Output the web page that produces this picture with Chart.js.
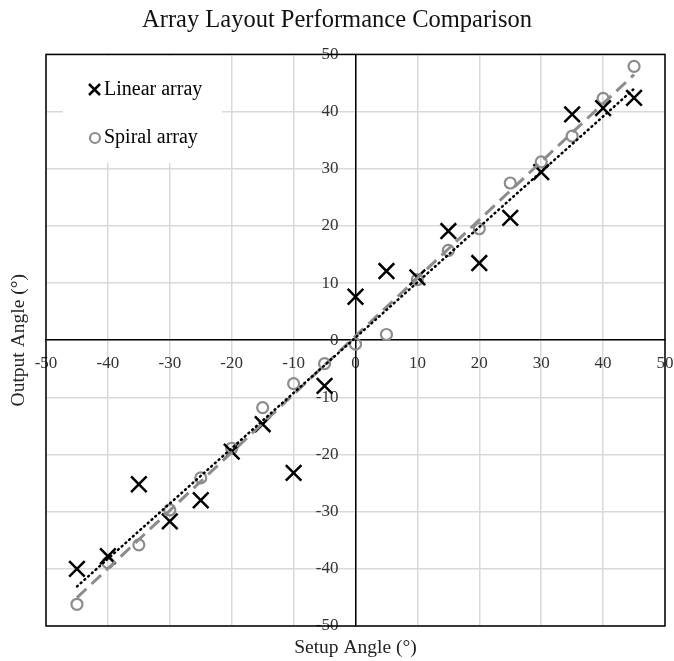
<!DOCTYPE html>
<html>
<head>
<meta charset="utf-8">
<script src="https://cdn.jsdelivr.net/npm/chart.js@4.4.0/dist/chart.umd.min.js"></script>
<style>
  html, body { margin: 0; padding: 0; background: #fff; }
  #wrap { width: 674px; height: 661px; }
</style>
</head>
<body>
<div id="wrap"><canvas id="layoutChart"></canvas></div>
<script>
// setup angles (deg) used for both arrays
var setupAngles = [-45, -40, -35, -30, -25, -20, -15, -10, -5, 0, 5, 10, 15, 20, 25, 30, 35, 40, 45];
// measured output angles
var linearOutput = [-40, -37.8, -25.2, -31.7, -28, -19.5, -14.7, -23.2, -8, 7.6, 12.1, 11, 19.1, 13.5, 21.4, 29.4, 39.5, 40.6, 42.4];
var spiralOutput = [-46.2, -38.9, -35.8, -29.7, -24.1, -18.9, -11.8, -7.6, -4.1, -0.7, 1, 10.6, 15.7, 19.5, 27.5, 31.2, 35.7, 42.3, 47.9];
var seriesNames = ['Linear array', 'Spiral array'];
var axisTicks = { min: -50, max: 50, step: 10 };

var serif = "'Liberation Serif', 'Times New Roman', serif";

function toPoints(xs, ys) {
    var pts = [];
    for (var i = 0; i < xs.length; i++) {
        pts.push({ x: xs[i], y: ys[i] });
    }
    return pts;
}

// least squares trendline between first and last setup angle
function trendline(xs, ys) {
    var n = xs.length, sx = 0, sy = 0, sxy = 0, sxx = 0;
    for (var i = 0; i < n; i++) {
        sx += xs[i]; sy += ys[i]; sxy += xs[i] * ys[i]; sxx += xs[i] * xs[i];
    }
    var slope = (n * sxy - sx * sy) / (n * sxx - sx * sx);
    var icpt = (sy - slope * sx) / n;
    var x0 = xs[0], x1 = xs[n - 1];
    return [{ x: x0, y: slope * x0 + icpt }, { x: x1, y: slope * x1 + icpt }];
}

// axis titles, legend box and outer frame
var decorations = {
    id: 'decorations',
    beforeDatasetsDraw: function (chart) {
        var ctx = chart.ctx;
        ctx.save();
        // legend box covers the grid
        ctx.fillStyle = '#fff';
        ctx.fillRect(63, 56, 159, 107);
        ctx.font = '20px ' + serif;
        ctx.fillStyle = '#000';
        ctx.textBaseline = 'middle';
        ctx.textAlign = 'left';
        // linear marker
        ctx.strokeStyle = '#000';
        ctx.lineWidth = 2.5;
        ctx.beginPath();
        ctx.moveTo(89, 84); ctx.lineTo(100, 95);
        ctx.moveTo(100, 84); ctx.lineTo(89, 95);
        ctx.stroke();
        ctx.fillText(seriesNames[0], 104, 90);
        // spiral marker
        ctx.strokeStyle = '#8c8c8c';
        ctx.lineWidth = 2.2;
        ctx.beginPath();
        ctx.arc(95, 138, 5, 0, Math.PI * 2);
        ctx.stroke();
        ctx.fillText(seriesNames[1], 104, 138);
        ctx.restore();
    },
    afterDraw: function (chart) {
        var ctx = chart.ctx, a = chart.chartArea;
        ctx.save();
        ctx.strokeStyle = '#000';
        ctx.lineWidth = 1.5;
        ctx.strokeRect(a.left, a.top, a.right - a.left, a.bottom - a.top);
        ctx.fillStyle = '#222';
        ctx.font = '19.5px ' + serif;
        ctx.textAlign = 'center';
        ctx.textBaseline = 'middle';
        ctx.fillText('Setup Angle (°)', (a.left + a.right) / 2, 648);
        ctx.translate(19, (a.top + a.bottom) / 2);
        ctx.rotate(-Math.PI / 2);
        ctx.fillText('Output Angle (°)', 0, 0);
        ctx.restore();
    }
};

var ctx = document.getElementById('layoutChart').getContext('2d');

var layoutChart = new Chart(ctx, {
    type: 'scatter',
    data: {
        datasets: [
            {
                label: seriesNames[0],
                data: toPoints(setupAngles, linearOutput),
                pointStyle: 'crossRot',
                pointRadius: 11,
                pointBorderWidth: 2.5,
                borderColor: '#000',
                backgroundColor: '#000',
                order: 2
            },
            {
                label: seriesNames[1],
                data: toPoints(setupAngles, spiralOutput),
                pointStyle: 'circle',
                pointRadius: 5.5,
                pointBorderWidth: 2.2,
                borderColor: '#8c8c8c',
                backgroundColor: 'rgba(0,0,0,0)',
                order: 3
            },
            {
                type: 'line',
                label: 'Linear trend',
                data: trendline(setupAngles, linearOutput),
                borderColor: '#000',
                borderWidth: 2.5,
                borderDash: [1, 4],
                borderCapStyle: 'round',
                pointRadius: 0,
                order: 0
            },
            {
                type: 'line',
                label: 'Spiral trend',
                data: trendline(setupAngles, spiralOutput),
                borderColor: '#8c8c8c',
                borderWidth: 3,
                borderDash: [13, 7],
                pointRadius: 0,
                order: 1
            }
        ]
    },
    options: {
        responsive: true,
        maintainAspectRatio: false,
        animation: false,
        layout: { padding: 0, autoPadding: false },
        plugins: {
            legend: { display: false },
            tooltip: { enabled: false },
            title: {
                display: true,
                text: 'Array Layout Performance Comparison',
                color: '#111',
                font: { family: serif, size: 24.5, weight: 'normal' },
                padding: { top: 6, bottom: 19 }
            }
        },
        scales: {
            x: {
                type: 'linear',
                position: { y: 0 },
                min: axisTicks.min,
                max: axisTicks.max,
                grid: { color: '#d9d9d9', lineWidth: 1.5, drawTicks: false },
                border: { color: '#000', width: 1.5 },
                ticks: {
                    stepSize: axisTicks.step,
                    autoSkip: false,
                    maxRotation: 0,
                    padding: 13,
                    color: '#333',
                    font: { family: serif, size: 17 }
                },
                // fixes the plot area's left and right margins
                afterFit: function (scale) {
                    scale.paddingLeft = 46;
                    scale.paddingRight = 9;
                }
            },
            y: {
                type: 'linear',
                position: { x: 0 },
                min: axisTicks.min,
                max: axisTicks.max,
                grid: { color: '#d9d9d9', lineWidth: 1.5, drawTicks: false },
                border: { color: '#000', width: 1.5 },
                ticks: {
                    stepSize: axisTicks.step,
                    autoSkip: false,
                    color: '#333',
                    font: { family: serif, size: 17 },
                    // gap between label and the centred axis
                    callback: function (value) { return value + '\u2002\u2002'; }
                },
                afterFit: function (scale) {
                    scale.paddingTop = 0;
                    scale.paddingBottom = 35;
                }
            }
        }
    },
    plugins: [decorations]
});
</script>
</body>
</html>
